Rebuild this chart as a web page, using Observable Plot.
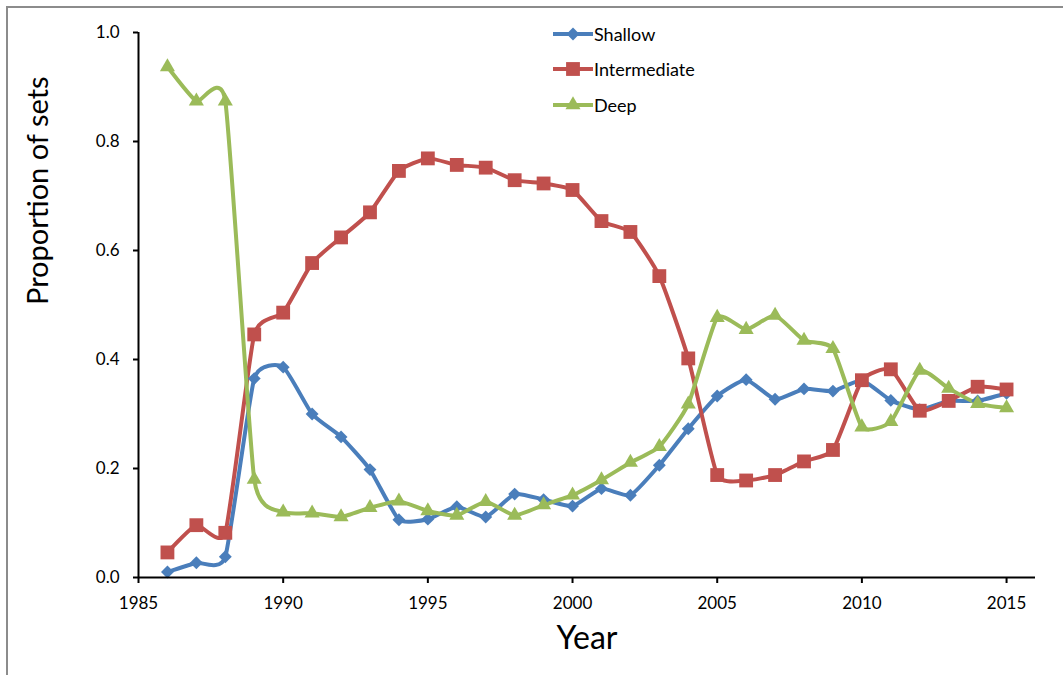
<!DOCTYPE html>
<html><head><meta charset="utf-8">
<script src="https://cdn.jsdelivr.net/npm/d3@7"></script>
<script src="https://cdn.jsdelivr.net/npm/@observablehq/plot@0.6"></script>
<style>
body{margin:0;background:#fff;}
#wrap{position:relative;width:1063px;height:675px;overflow:hidden;font-family:Lato,sans-serif;background:#fff;}
#border{position:absolute;left:6px;top:6px;width:1100px;height:720px;border-left:2px solid #8c8c8c;border-top:2px solid #8c8c8c;pointer-events:none;}
#chart{position:absolute;left:0;top:0;}
#legend{position:absolute;left:553px;top:16px;}
.item{display:flex;align-items:center;height:35.5px;font-size:18px;color:#000;}
.item svg{margin-right:1px;}
</style></head>
<body><div id="wrap"><div id="chart"></div><div id="legend"></div><div id="border"></div></div>
<script>
const years = [1986,1987,1988,1989,1990,1991,1992,1993,1994,1995,1996,1997,1998,1999,2000,2001,2002,2003,2004,2005,2006,2007,2008,2009,2010,2011,2012,2013,2014,2015];
const shallow = [0.010,0.027,0.038,0.365,0.386,0.300,0.258,0.198,0.106,0.107,0.130,0.111,0.153,0.143,0.131,0.163,0.151,0.206,0.273,0.333,0.363,0.327,0.346,0.342,0.362,0.325,0.308,0.324,0.324,0.338];
const intermediate = [0.046,0.096,0.082,0.446,0.486,0.577,0.624,0.670,0.746,0.769,0.757,0.752,0.729,0.723,0.711,0.654,0.634,0.553,0.402,0.188,0.178,0.188,0.213,0.234,0.362,0.382,0.306,0.324,0.350,0.345];
const deep = [0.937,0.874,0.874,0.180,0.120,0.118,0.111,0.128,0.140,0.122,0.114,0.139,0.114,0.133,0.151,0.179,0.211,0.240,0.318,0.477,0.455,0.481,0.435,0.420,0.276,0.286,0.380,0.347,0.319,0.311];
const seriesNames = ["Shallow","Intermediate","Deep"];
const seriesColors = ["#4A7EBB","#C0504D","#9BBB59"];
const seriesSymbols = ["diamond2","square","triangle"];
const seriesR = [5.8, 7.8, 5.6];
const xTicks = [1985,1990,1995,2000,2005,2010,2015];
const yTicks = [0,0.2,0.4,0.6,0.8,1.0];

const seriesValues = [shallow, intermediate, deep];
const rows = [];
seriesNames.forEach((name, i) => years.forEach((yr, j) => rows.push({series: name, year: yr, value: seriesValues[i][j]})));

const marks = [];
seriesNames.forEach((name, i) => {
  const d = rows.filter(r => r.series === name);
  marks.push(Plot.line(d, {x: "year", y: "value", stroke: seriesColors[i], strokeWidth: 4, curve: "cardinal", tension: 0.5}));
});
seriesNames.forEach((name, i) => {
  const d = rows.filter(r => r.series === name);
  marks.push(Plot.dot(d, {x: "year", y: "value", fill: seriesColors[i], stroke: "none", symbol: seriesSymbols[i], r: seriesR[i]}));
});

const chart = Plot.plot({
  width: 1063,
  height: 675,
  marginLeft: 138,
  marginRight: 28,
  marginTop: 32,
  marginBottom: 98,
  style: {fontFamily: "Lato, sans-serif", background: "#fff", color: "#000"},
  x: {domain: [1985, 2016]},
  y: {domain: [0, 1]},
  marks: [
    ...marks,
    Plot.ruleY([0], {stroke: "#000", strokeWidth: 2}),
    Plot.ruleX([1985], {stroke: "#000", strokeWidth: 2}),
    Plot.axisX({ticks: xTicks, tickFormat: d => String(d), tickSize: 6, tickPadding: 13, fontSize: 17, strokeWidth: 2, label: null, stroke: "#000"}),
    Plot.axisY({ticks: yTicks, tickFormat: d => d.toFixed(1), tickSize: 5, tickPadding: 14, fontSize: 17, strokeWidth: 2, label: null, stroke: "#000"}),
    Plot.text(["Year"], {frameAnchor: "bottom", dy: 71, fontSize: 32, fill: "#000"}),
    Plot.text(["Proportion of sets"], {frameAnchor: "left", dx: -100, rotate: -90, fontSize: 29, fill: "#000"})
  ]
});
document.getElementById("chart").appendChild(chart);

const legend = document.getElementById("legend");
seriesNames.forEach((name, i) => {
  const item = document.createElement("div");
  item.className = "item";
  const w = 40, h = 22;
  const svg = d3.create("svg").attr("width", w).attr("height", h);
  svg.append("line").attr("x1", 0).attr("x2", w).attr("y1", h/2).attr("y2", h/2).attr("stroke", seriesColors[i]).attr("stroke-width", 4);
  const size = Math.PI * seriesR[i] * seriesR[i];
  const sym = {diamond2: d3.symbolDiamond2, square: d3.symbolSquare, triangle: d3.symbolTriangle}[seriesSymbols[i]];
  svg.append("path").attr("d", d3.symbol(sym, size)()).attr("transform", `translate(${w/2},${h/2})`).attr("fill", seriesColors[i]);
  item.appendChild(svg.node());
  const span = document.createElement("span");
  span.textContent = name;
  item.appendChild(span);
  legend.appendChild(item);
});
</script>
</body></html>
